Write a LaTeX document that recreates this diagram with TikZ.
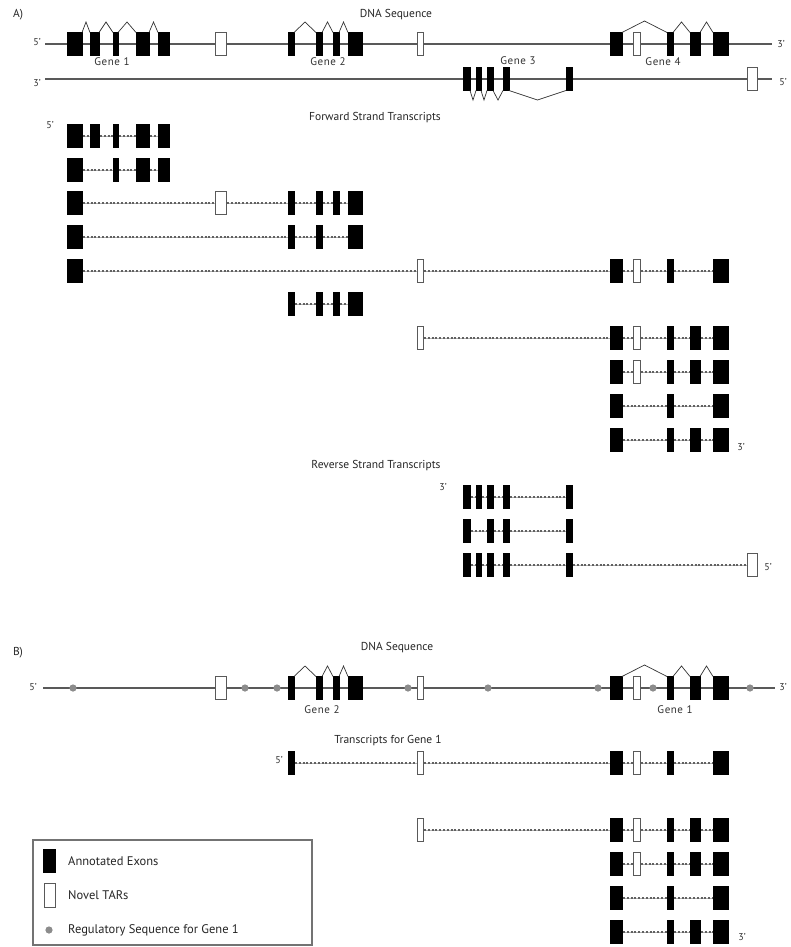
\documentclass[tikz,border=0pt]{standalone}
\usepackage{fontspec}
\setmainfont{PT Sans}
\tikzset{
 exon/.style={fill=black, draw=black, line width=0.4pt},
 tar/.style={fill=white, draw=black!65, line width=0.9pt},
 dna/.style={draw=black!65, line width=2.8pt},
 intron/.style={draw=black!30, line width=0.8pt,
   postaction={draw=black!62, line width=1.7pt, dash pattern=on 2pt off 1.8pt, dash phase=-1pt}},
 splice/.style={draw=black!80, line width=0.7pt},
 reg/.style={fill=black!45, draw=none},
 lbl/.style={font=\fontsize{11}{12}\selectfont\addfontfeatures{LetterSpace=5}, text=black!80, inner sep=0},
 ttl/.style={font=\fontsize{11.5}{12}\selectfont, text=black!85, inner sep=0},
 lgd/.style={font=\fontsize{12.5}{13}\selectfont, text=black!85, inner sep=0, anchor=west},
 endl/.style={font=\fontsize{10}{11}\selectfont, text=black!80, inner sep=0},
}
\newcommand\EX[3]{\path[exon] (#1,#3-11.5) rectangle (#2,#3+11.5);}
\newcommand\TR[3]{\path[tar] (#1,#3-11.5) rectangle (#2,#3+11.5);}
\newcommand\GAPS[2]{\foreach \ga/\gb in {#2} {\path[intron] (\ga,#1) -- (\gb,#1);}}
\newcommand\SPL[4]{\path[splice] (#1,#3) -- ({(#1+#2)/2},#4) -- (#2,#3);}
\newcommand\RG[1]{\path[reg] (#1,688) circle (3.6);}
% gene exon sets
\newcommand\GoneAll[1]{\EX{67}{82}{#1}\EX{90}{99}{#1}\EX{113}{118}{#1}\EX{136}{149}{#1}\EX{158}{169}{#1}}
\newcommand\GtwoAll[1]{\EX{288}{294}{#1}\EX{316}{322}{#1}\EX{333}{339}{#1}\EX{348}{362}{#1}}
\newcommand\GfourAll[1]{\EX{610}{622}{#1}\TR{633}{640}{#1}\EX{667}{673}{#1}\EX{690}{700}{#1}\EX{713}{728}{#1}}
\newcommand\GthreeAll[1]{\EX{463}{470}{#1}\EX{476}{481}{#1}\EX{487}{493}{#1}\EX{503}{509}{#1}\EX{566}{572}{#1}}
\begin{document}
\begin{tikzpicture}[x=1pt,y=-1pt]
\useasboundingbox[fill=white] (0,0) rectangle (790,947);

% ================= A =================
\node[ttl] (la) at (18,15) {A)};
\node[ttl] (dnaA) at (396,15) {DNA Sequence};

% forward strand
\path[dna] (45,44) -- (772,44);
\node[endl] (f5) at (37,42) {5'};
\node[endl] (f3) at (781,44) {3'};
\GoneAll{44}
\TR{215}{226}{44}
\GtwoAll{44}
\TR{417}{423}{44}
\GfourAll{44}
\SPL{82}{90}{32.5}{22}\SPL{99}{113}{32.5}{22}\SPL{118}{136}{32.5}{22}\SPL{149}{158}{32.5}{22}
\SPL{294}{316}{32.5}{22}\SPL{322}{333}{32.5}{22}\SPL{339}{348}{32.5}{22}
\SPL{622}{667}{32.5}{21}\SPL{673}{690}{32.5}{22}\SPL{700}{713}{32.5}{22}
\node[lbl] (g1) at (112,62) {Gene 1};
\node[lbl] (g2) at (328,62) {Gene 2};
\node[lbl] (g4) at (663,62) {Gene 4};

% reverse strand
\path[dna] (45,79) -- (772,79);
\node[endl] (r3) at (37,83) {3'};
\node[endl] (r5) at (783,82) {5'};
\GthreeAll{79}
\TR{747}{757}{79}
\SPL{470}{476}{90.5}{100}\SPL{481}{487}{90.5}{100}\SPL{493}{503}{90.5}{100}\SPL{509}{566}{90.5}{100}
\node[lbl] (g3) at (518,61) {Gene 3};

% forward strand transcripts
\node[ttl] (fst) at (375,118) {Forward Strand Transcripts};
\node[endl] (t5) at (50,125) {5'};
\GAPS{136}{82/90,99/113,118/136,149/158}\GoneAll{136}
\GAPS{170}{82/113,118/136,149/158}\EX{67}{82}{170}\EX{113}{118}{170}\EX{136}{149}{170}\EX{158}{169}{170}
\GAPS{203}{82/215,226/288,294/316,322/333,339/348}\EX{67}{82}{203}\TR{215}{226}{203}\GtwoAll{203}
\GAPS{237}{82/288,294/316,322/348}\EX{67}{82}{237}\EX{288}{294}{237}\EX{316}{322}{237}\EX{348}{362}{237}
\GAPS{271}{82/417,423/610,622/633,640/667,673/713}\EX{67}{82}{271}\TR{417}{423}{271}\EX{610}{622}{271}\TR{633}{640}{271}\EX{667}{673}{271}\EX{713}{728}{271}
\GAPS{304}{294/316,322/333,339/348}\GtwoAll{304}
\GAPS{338}{423/610,622/633,640/667,673/690,700/713}\TR{417}{423}{338}\GfourAll{338}
\GAPS{372}{622/633,640/667,673/690,700/713}\GfourAll{372}
\GAPS{406}{622/667,673/713}\EX{610}{622}{406}\EX{667}{673}{406}\EX{713}{728}{406}
\GAPS{440}{622/667,673/690,700/713}\EX{610}{622}{440}\EX{667}{673}{440}\EX{690}{700}{440}\EX{713}{728}{440}
\node[endl] (t3) at (741,447) {3'};

% reverse strand transcripts
\node[ttl] (rst) at (376,466) {Reverse Strand Transcripts};
\node[endl] (u3) at (443,487) {3'};
\GAPS{497}{470/476,481/487,493/503,509/566}\GthreeAll{497}
\GAPS{531}{470/487,493/503,509/566}\EX{463}{470}{531}\EX{487}{493}{531}\EX{503}{509}{531}\EX{566}{572}{531}
\GAPS{565}{470/476,481/487,493/503,509/566,572/747}\GthreeAll{565}\TR{747}{757}{565}
\node[endl] (u5) at (768,567) {5'};

% ================= B =================
\node[ttl] (lb) at (18,653) {B)};
\node[ttl] (dnaB) at (397,648) {DNA Sequence};
\path[dna] (43,688) -- (775,688);
\node[endl] (b5) at (33,687) {5'};
\node[endl] (b3) at (783,687) {3'};
\RG{73}\RG{245}\RG{277}\RG{408}\RG{488}\RG{598}\RG{653}\RG{750}
\TR{215}{226}{688}
\GtwoAll{688}
\TR{417}{423}{688}
\GfourAll{688}
\SPL{294}{316}{676.5}{666}\SPL{322}{333}{676.5}{666}\SPL{339}{348}{676.5}{666}
\SPL{622}{667}{676.5}{665}\SPL{673}{690}{676.5}{666}\SPL{700}{713}{676.5}{666}
\node[lbl] (bg2) at (322,710) {Gene 2};
\node[lbl] (bg1) at (675,710) {Gene 1};

\node[ttl] (tg1) at (388,741) {Transcripts for Gene 1};
\node[endl] (v5) at (279,760) {5'};
\GAPS{763}{294/417,423/610,622/633,640/667,673/713}\EX{288}{294}{763}\TR{417}{423}{763}\EX{610}{622}{763}\TR{633}{640}{763}\EX{667}{673}{763}\EX{713}{728}{763}
\GAPS{830}{423/610,622/633,640/667,673/690,700/713}\TR{417}{423}{830}\GfourAll{830}
\GAPS{864}{622/633,640/667,673/690,700/713}\GfourAll{864}
\GAPS{898}{622/667,673/713}\EX{610}{622}{898}\EX{667}{673}{898}\EX{713}{728}{898}
\GAPS{932}{622/667,673/690,700/713}\EX{610}{622}{932}\EX{667}{673}{932}\EX{690}{700}{932}\EX{713}{728}{932}
\node[endl] (v3) at (742,937) {3'};

% legend
\draw[black!55, line width=1.1pt] (33,840) rectangle (312,945);
\path[exon] (43,849) rectangle (55,872);
\node[lgd] (l1) at (68,861) {Annotated Exons};
\path[tar] (44,883) rectangle (55,907);
\node[lgd] (l2) at (68,895) {Novel TARs};
\path[reg] (49,930) circle (3.6);
\node[lgd] (l3) at (68,930) {Regulatory Sequence for Gene 1};
\end{tikzpicture}
\end{document}
